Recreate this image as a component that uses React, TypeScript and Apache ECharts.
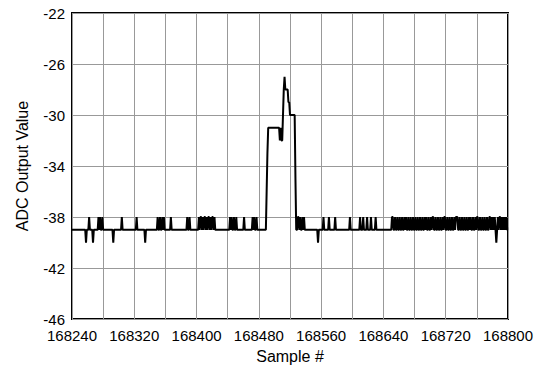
import React, { useEffect, useRef } from 'react';
import * as echarts from 'echarts';

const firstSample = 168240;
const lastSample = 168800;
const xLabelStep = 80;
const yTickStart = -46;
const yTickEnd = -22;
const yLabelStep = 4;

const baselineValue = -39;
const upValue = -38;
const downValue = -40;

const upSamples = [
  168262, 168274, 168276, 168279, 168304, 168323, 168350, 168353, 168356, 168358,
  168367, 168388, 168391, 168403, 168405, 168406, 168408, 168410, 168411, 168413,
  168415, 168416, 168418, 168420, 168421, 168423, 168443, 168445, 168448, 168451,
  168461, 168472, 168474, 168477,
  168530, 168531, 168533, 168536, 168538, 168563, 168570, 168578, 168597, 168610,
  168614, 168619, 168624, 168630,
  168651, 168652, 168655, 168658, 168661, 168664, 168667, 168669, 168672, 168675,
  168678, 168681, 168684, 168687, 168690, 168693, 168695, 168698, 168701, 168703,
  168704, 168707, 168710, 168713, 168716, 168718, 168719, 168722, 168725, 168728,
  168731, 168733, 168734, 168735, 168738, 168741, 168744, 168747, 168750, 168752,
  168755, 168758, 168760, 168761, 168764, 168767, 168770, 168773, 168776, 168777,
  168779, 168781, 168783, 168787, 168789, 168790, 168792, 168794, 168796, 168798,
];

const downSamples = [168258, 168267, 168293, 168334, 168556, 168785];

const pulseSamples = [
  168489, 168490, 168491, 168492, 168493, 168494, 168495, 168496, 168497, 168498,
  168499, 168500, 168501, 168502, 168503, 168504, 168505, 168506, 168507, 168508,
  168509, 168510, 168511, 168512, 168513, 168514, 168515, 168516, 168517, 168518,
  168519, 168520, 168521, 168522, 168523, 168524, 168525, 168526, 168527, 168528,
];
const pulseValues = [
  -39, -36, -33, -31, -31, -31, -31, -31, -31, -31,
  -31, -31, -31, -31, -31, -31, -31, -31, -32, -31,
  -32, -32, -30, -28, -27, -28, -28, -28, -28, -29,
  -29, -30, -30, -30, -30, -30, -30, -30, -35, -39,
];

function buildSeries(): [number, number][] {
  const up = new Set(upSamples);
  const down = new Set(downSamples);
  const out: [number, number][] = [];
  for (let s = firstSample; s <= lastSample; s++) {
    let v = baselineValue;
    if (up.has(s)) v = upValue;
    if (down.has(s)) v = downValue;
    const pi = pulseSamples.indexOf(s);
    if (pi >= 0) v = pulseValues[pi];
    out.push([s, v]);
  }
  return out;
}

const FONT = 'Liberation Sans, Arial, sans-serif';

export default function App() {
  const ref = useRef<HTMLDivElement>(null);
  useEffect(() => {
    document.body.style.margin = '0';
    if (!ref.current) return;
    const chart = echarts.init(ref.current, undefined, { renderer: 'svg' });
    chart.setOption({
      animation: false,
      backgroundColor: '#fff',
      grid: {
        left: 72, right: 33, top: 13, bottom: 48,
        show: true, borderColor: '#000', borderWidth: 2, backgroundColor: 'transparent',
      },
      xAxis: {
        type: 'value',
        min: firstSample,
        max: lastSample,
        interval: xLabelStep / 2,
        axisLine: { show: false },
        axisTick: { show: false },
        splitLine: { show: true, lineStyle: { color: '#999', width: 1 } },
        axisLabel: {
          formatter: (v: number) => ((v - firstSample) % xLabelStep === 0 ? String(v) : ''),
          color: '#000', fontSize: 15, fontFamily: FONT, margin: 9,
          showMinLabel: true, showMaxLabel: true,
        },
        name: 'Sample #',
        nameLocation: 'middle',
        nameGap: 28,
        nameTextStyle: { color: '#000', fontSize: 16, fontFamily: FONT },
      },
      yAxis: {
        type: 'value',
        min: yTickStart,
        max: yTickEnd,
        interval: yLabelStep / 2,
        axisLine: { show: false },
        axisTick: { show: false },
        splitLine: { show: true, lineStyle: { color: ['#999', 'transparent'], width: 1 } },
        axisLabel: {
          formatter: (v: number) => ((v - yTickStart) % yLabelStep === 0 ? String(v) : ''),
          color: '#000', fontSize: 15, fontFamily: FONT, margin: 7,
          showMinLabel: true, showMaxLabel: true,
        },
        name: 'ADC Output Value',
        nameLocation: 'middle',
        nameGap: 42,
        nameTextStyle: { color: '#000', fontSize: 16, fontFamily: FONT },
      },
      series: [
        {
          type: 'line',
          data: buildSeries(),
          showSymbol: false,
          symbol: 'none',
          lineStyle: { color: '#000', width: 2 },
          z: 5,
        },
      ],
    });
    return () => chart.dispose();
  }, []);
  return <div ref={ref} style={{ width: 541, height: 369 }} />;
}
